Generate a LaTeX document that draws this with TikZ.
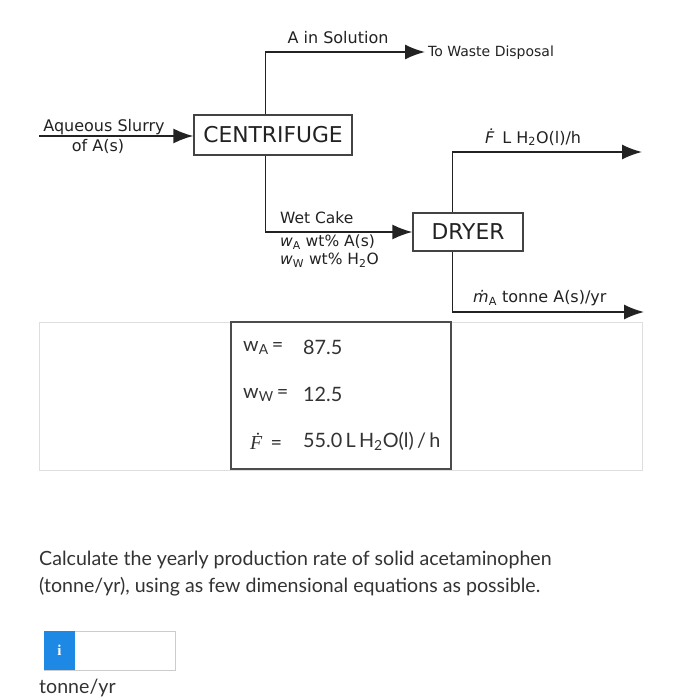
\documentclass[tikz,border=0pt]{standalone}
\usepackage{fontspec}
\setmainfont{DejaVu Sans}
\newfontfamily\latofont{Lato}
\newfontfamily\serifit{Liberation Serif}
\usetikzlibrary{arrows.meta,calc}
\definecolor{ink}{HTML}{222222}
\definecolor{txt}{HTML}{333333}
\definecolor{blueI}{HTML}{1E88E5}
\tikzset{
  unitbox/.style={draw=ink!85, line width=1.3pt, fill=white, inner sep=0pt, font=\fontsize{21.8}{24}\selectfont, text=ink},
  flow/.style={draw=ink, line width=1.7pt, -{Latex[length=20pt,width=15pt]}},
  lbl/.style={font=\fontsize{16}{18}\selectfont, text=ink, inner sep=0pt},
  tbl/.style={font=\latofont\fontsize{19.8}{22}\selectfont, text=txt, inner sep=0pt},
  qtxt/.style={font=\latofont\fontsize{19.6}{22}\selectfont, text=txt, inner sep=0pt, anchor=west},
}
\begin{document}
\begin{tikzpicture}[x=1pt,y=-1pt]
\useasboundingbox (0,0) rectangle (683,700);
\fill[white] (0,0) rectangle (683,700);

% units
\node[unitbox, minimum width=158pt, minimum height=40pt] (cent) at (273,135) {CENTRIFUGE};
\node[unitbox, minimum width=110pt, minimum height=38pt] (dryer) at (468,232) {DRYER};

% free ends
\coordinate (feed) at (39,136);
\coordinate (waste) at (425,52);
\coordinate (vap) at (642,152);
\coordinate (prod) at (644,312);
\coordinate (ctop) at ($(cent.north west)+(72,0)$);
\coordinate (cbot) at ($(cent.south west)+(72,0)$);
\coordinate (dtop) at ($(dryer.north west)+(40,0)$);
\coordinate (dbot) at ($(dryer.south west)+(40,0)$);

% streams
\draw[flow] (feed) -- (feed -| cent.west);
\draw[flow] (ctop) |- (waste);
\draw[flow] (cbot) |- (dryer.west);
\draw[flow] (dtop) |- (vap);
\draw[flow] (dbot) |- (prod);

% labels
\node[lbl] (l1) at (104,127) {Aqueous Slurry};
\node[lbl] (l2) at (98,146) {of A(s)};
\node[lbl] (l3) at (338,38) {A in Solution};
\node[lbl, anchor=west, font=\fontsize{14}{16}\selectfont] (l4) at (428,53) {To Waste Disposal};
\node[lbl, anchor=west, font=\fontsize{15.5}{17}\selectfont] (l5) at (280,218) {Wet Cake};
\node[lbl, anchor=west, font=\fontsize{15.5}{17}\selectfont] (l6) at (280,242) {\textit{w}\textsubscript{A} wt\% A(s)};
\node[lbl, anchor=west, font=\fontsize{15.5}{17}\selectfont] (l7) at (280,260) {\textit{w}\textsubscript{W} wt\% H\textsubscript{2}O};
\node[lbl, anchor=west] (l8) at (485,137) {\textit{\.F}\, L H\textsubscript{2}O(l)/h};
\node[lbl, anchor=west] (l9) at (473,298) {\textit{\.m}\textsubscript{A} tonne A(s)/yr};

% table
\draw[draw=black!13, line width=1pt] (39,322) rectangle (642,470);
\draw[draw=black!70, line width=1.2pt] (231,322) rectangle (451,469);
\node[tbl, anchor=west] (wa) at (243,348) {w\textsubscript{A}\,=};
\node[tbl, anchor=west] (wav) at (303,347) {87.5};
\node[tbl, anchor=west] (ww) at (243,395) {w\textsubscript{W}\,=};
\node[tbl, anchor=west] (wwv) at (303,394) {12.5};
\node[tbl, anchor=west] (ff) at (250,441) {{\serifit\itshape \.F}\, =};
\node[tbl, anchor=west] (ffv) at (303,441) {55.0\,L\,H\textsubscript{2}O(l)\,/\,h};

% question
\node[qtxt] (q1) at (39,560) {Calculate the yearly production rate of solid acetaminophen};
\node[qtxt] (q2) at (39,587) {(tonne/yr), using as few dimensional equations as possible.};

% input
\draw[draw=black!20, line width=1pt, fill=white] (44,631) rectangle (175,670);
\fill[blueI] (44,631) rectangle (75,670);
\node[font=\serifit\bfseries\fontsize{15}{16}\selectfont, text=white] (ib) at (59.5,650.5) {i};
\node[qtxt] (unit) at (39,688) {tonne/yr};
\end{tikzpicture}
\end{document}
